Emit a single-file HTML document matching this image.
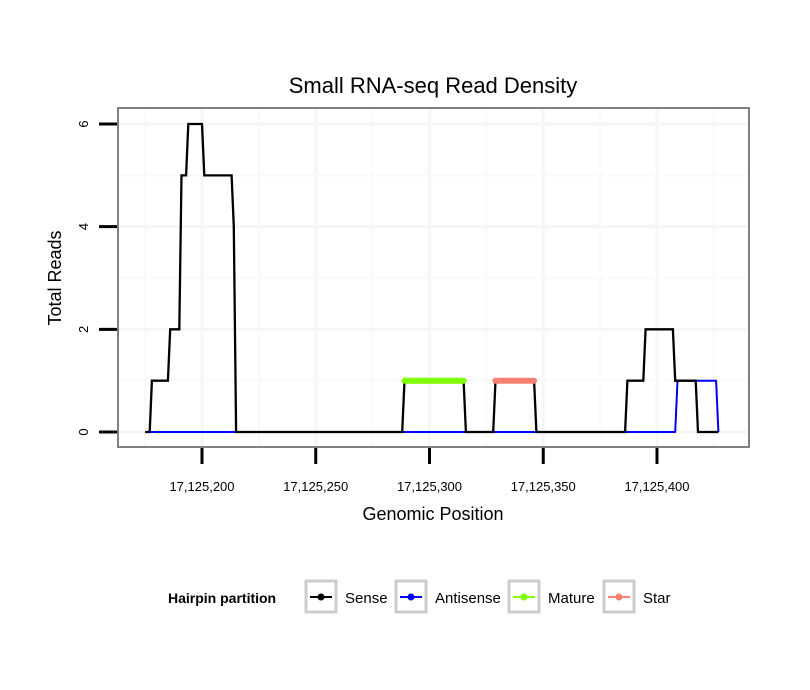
<!DOCTYPE html>
<html><head><meta charset="utf-8"><style>
body{margin:0;background:#fff}
svg{display:block;font-family:"Liberation Sans",Arial,sans-serif}
</style></head><body>
<svg id="chart" width="810" height="690" viewBox="0 0 810 690" xmlns="http://www.w3.org/2000/svg">
<rect width="810" height="690" fill="#fff"/>
<text x="433" y="93" font-size="22" text-anchor="middle">Small RNA-seq Read Density</text>
<g id="grid"></g>
<g id="series"></g>
<rect x="118" y="108" width="631" height="339" fill="none" stroke="#808080" stroke-width="2"/>
<g id="axes"></g>
<text x="433" y="520" font-size="18" text-anchor="middle">Genomic Position</text>
<text transform="translate(61,278) rotate(-90)" font-size="18" text-anchor="middle">Total Reads</text>
<g>
<text x="168" y="603" font-size="14" font-weight="bold">Hairpin partition</text>
<g id="legend"></g>
</g>
</svg>
<script>
const base = 17125000;
const sensePos = [175,177,178,185,186,190,191,193,194,200,201,213,214,215,288,289,315,316,328,329,346,347,386,387,394,395,407,408,417,418,427];
const senseVal = [0,0,1,1,2,2,5,5,6,6,5,5,4,0,0,1,1,0,0,1,1,0,0,1,1,2,2,1,1,0,0];
const antiPos = [177,408,409,426,427];
const antiVal = [0,0,1,1,0];
const maturePos = [289,315];
const matureVal = [1,1];
const starPos = [329,346];
const starVal = [1,1];
const xTicks = [200,250,300,350,400];
const xTickLabels = ["17,125,200","17,125,250","17,125,300","17,125,350","17,125,400"];
const yTicks = [0,2,4,6];
const yTickLabels = ["0","2","4","6"];

const NS="http://www.w3.org/2000/svg";
const xs = p => 202 + (p-200)*2.275;
const ys = v => 432 - v*51.33;
function mk(tag, attrs, parent){const e=document.createElementNS(NS,tag);for(const k in attrs)e.setAttribute(k,attrs[k]);parent.appendChild(e);return e;}
const grid=document.getElementById('grid'), series=document.getElementById('series'), axes=document.getElementById('axes'), legend=document.getElementById('legend');
for(let i=0;i<xTicks.length;i++){
  const mx=xs(xTicks[i]-25);
  const gm=mk('line',{x1:mx,x2:mx,y1:109,y2:446,stroke:'#fafafa','stroke-width':2},grid);
  
  
  const g=mk('line',{x1:xs(xTicks[i]),x2:xs(xTicks[i]),y1:109,y2:446,stroke:'#f6f6f6','stroke-width':3},grid);
  
  
}
{const mx=xs(425);const gm=mk('line',{x1:mx,x2:mx,y1:109,y2:446,stroke:'#fafafa','stroke-width':2},grid);

}
for(let i=0;i<yTicks.length;i++){
  const g=mk('line',{x1:119,x2:748,y1:ys(yTicks[i]),y2:ys(yTicks[i]),stroke:'#f6f6f6','stroke-width':3},grid);
  
  
  if(i<yTicks.length-1){const m=(yTicks[i]+yTicks[i+1])/2;
  const gm=mk('line',{x1:119,x2:748,y1:ys(m),y2:ys(m),stroke:'#fafafa','stroke-width':2},grid);
  
  }
}
function path(P,V){return P.map((p,i)=>(i?'L':'M')+xs(p).toFixed(1)+' '+ys(V[i]).toFixed(1)).join(' ');}
const a=mk('path',{d:path(antiPos,antiVal),fill:'none',stroke:'#0000ff','stroke-width':2,'stroke-linejoin':'round'},series);


const s=mk('path',{d:path(sensePos,senseVal),fill:'none',stroke:'#000','stroke-width':2.3,'stroke-linejoin':'miter'},series);


const m=mk('path',{d:path(maturePos,matureVal),fill:'none',stroke:'#7fff00','stroke-width':6,'stroke-linecap':'round'},series);


const st=mk('path',{d:path(starPos,starVal),fill:'none',stroke:'#fa8072','stroke-width':6,'stroke-linecap':'round'},series);


for(let i=0;i<xTicks.length;i++){
  const x=xs(xTicks[i]);
  const t=mk('line',{x1:x,x2:x,y1:448,y2:464,stroke:'#000','stroke-width':3},axes);
  
  
  const l=mk('text',{x:x,y:491,'font-size':13,'text-anchor':'middle'},axes);l.textContent=xTickLabels[i];
  
  
}
for(let i=0;i<yTicks.length;i++){
  const y=ys(yTicks[i]);
  const t=mk('line',{x1:99,x2:117,y1:y,y2:y,stroke:'#000','stroke-width':3},axes);
  
  
  const l=mk('text',{transform:`translate(88,${y}) rotate(-90)`,'font-size':13,'text-anchor':'middle'},axes);l.textContent=yTickLabels[i];
  
  
}
const legNames=["Sense","Antisense","Mature","Star"];
const legColors=["#000","#0000ff","#7fff00","#fa8072"];
const legBoxX=[306,396,509,604];
for(let i=0;i<4;i++){
  const g=mk('g',{},legend);
  
  
  const bx=legBoxX[i];
  mk('rect',{x:bx,y:581,width:30,height:31,fill:'#fff',stroke:'#cccccc','stroke-width':3},g);
  mk('line',{x1:bx+4,x2:bx+26,y1:597,y2:597,stroke:legColors[i],'stroke-width':2},g);
  mk('circle',{cx:bx+15,cy:597,r:3.5,fill:legColors[i]},g);
  const t=mk('text',{x:bx+39,y:603,'font-size':15},g);t.textContent=legNames[i];
}
</script>
</body></html>
